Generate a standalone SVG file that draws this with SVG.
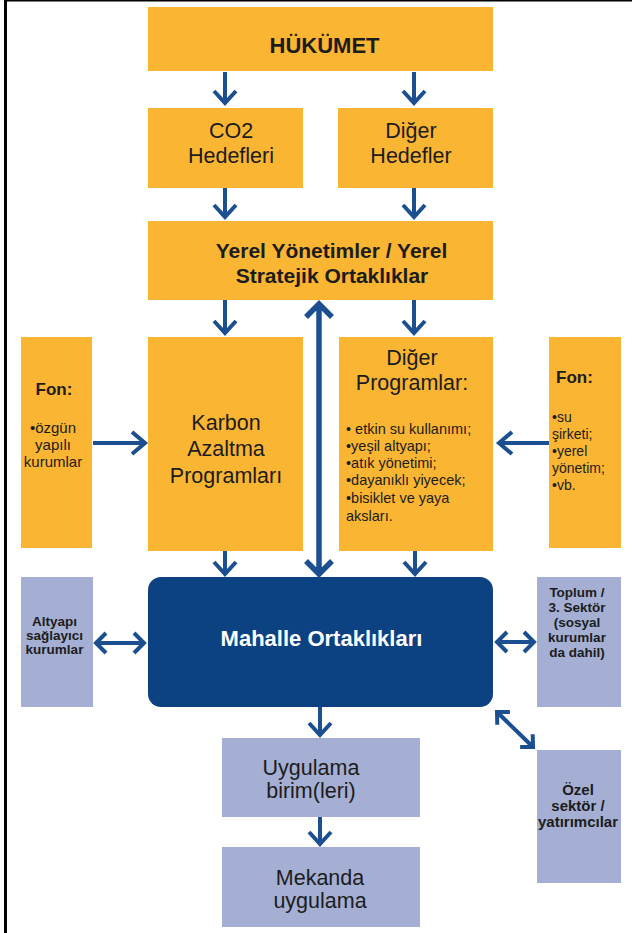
<svg xmlns="http://www.w3.org/2000/svg" width="632" height="933" viewBox="0 0 632 933">
<style>
.or{fill:#fab532}
.lv{fill:#a4afd3}
.dk{fill:#0c4281}
text{font-family:"Liberation Sans",Arial,sans-serif;fill:#1c1c1c}
.t{font-size:21.5px;text-anchor:middle}
.b{font-weight:bold;text-anchor:middle}
.s{font-size:14.5px}
.w{fill:#ffffff}
.ar{fill:none;stroke:#1b4f8f;stroke-width:4;stroke-linecap:butt;stroke-linejoin:miter}
.ar2{fill:none;stroke:#1b4f8f;stroke-width:5.5;stroke-linejoin:miter}
</style>
<rect x="0" y="0" width="632" height="933" fill="#ffffff"/>
<rect x="4" y="0" width="3" height="933" fill="#000"/>
<rect x="4" y="0" width="628" height="1.5" fill="#000"/>

<g id="hukumet">
<rect class="or" x="148" y="7" width="345" height="64"/>
<text class="b" x="324.5" y="53" font-size="22">HÜKÜMET</text>
</g>
<g id="co2">
<rect class="or" x="148" y="108" width="155" height="80"/>
<text class="t" x="231" y="138">CO2</text>
<text class="t" x="231" y="163">Hedefleri</text>
</g>
<g id="diger-hedefler">
<rect class="or" x="338" y="108" width="155" height="80"/>
<text class="t" x="411" y="138">Diğer</text>
<text class="t" x="411" y="163">Hedefler</text>
</g>
<g id="yerel">
<rect class="or" x="148" y="221" width="345" height="79"/>
<text class="b" x="331.5" y="258" font-size="21">Yerel Yönetimler / Yerel</text>
<text class="b" x="332" y="283" font-size="21">Stratejik Ortaklıklar</text>
</g>
<g id="fon-sol">
<rect class="or" x="21" y="337" width="71" height="211"/>
<text class="b" x="54" y="395" font-size="17">Fon:</text>
<text x="53" y="433" font-size="15" text-anchor="middle">•özgün</text>
<text x="53" y="450" font-size="15" text-anchor="middle">yapılı</text>
<text x="53" y="467" font-size="15" text-anchor="middle">kurumlar</text>
</g>
<g id="karbon">
<rect class="or" x="148" y="337" width="155" height="214"/>
<text class="t" x="226" y="430">Karbon</text>
<text class="t" x="226" y="456">Azaltma</text>
<text class="t" x="226" y="483">Programları</text>
</g>
<g id="diger-programlar">
<rect class="or" x="339" y="337" width="154" height="214"/>
<text class="t" x="412" y="365">Diğer</text>
<text class="t" x="412" y="390">Programlar:</text>
<text class="s" x="346" y="434">• etkin su kullanımı;</text>
<text class="s" x="346" y="451">•yeşil altyapı;</text>
<text class="s" x="346" y="468">•atık yönetimi;</text>
<text class="s" x="346" y="485">•dayanıklı yiyecek;</text>
<text class="s" x="346" y="503">•bisiklet ve yaya</text>
<text class="s" x="346" y="521">aksları.</text>
</g>
<g id="fon-sag">
<rect class="or" x="549" y="337" width="72" height="211"/>
<text x="556" y="383" font-size="17" font-weight="bold">Fon:</text>
<text x="552" y="422" font-size="14">•su</text>
<text x="552" y="439" font-size="14">şirketi;</text>
<text x="552" y="456" font-size="14">•yerel</text>
<text x="552" y="473" font-size="14">yönetim;</text>
<text x="552" y="490" font-size="14">•vb.</text>
</g>
<g id="altyapi">
<rect class="lv" x="21" y="577" width="72" height="130"/>
<text class="b" x="54.5" y="626" font-size="13.5">Altyapı</text>
<text class="b" x="54.5" y="640" font-size="13.5">sağlayıcı</text>
<text class="b" x="54.5" y="654" font-size="13.5">kurumlar</text>
</g>
<g id="mahalle">
<rect class="dk" x="148" y="577" width="345" height="130" rx="13" ry="13"/>
<text class="b w" x="321.5" y="646" font-size="22">Mahalle Ortaklıkları</text>
</g>
<g id="toplum">
<rect class="lv" x="537" y="577" width="84" height="130"/>
<text class="b" x="577" y="597" font-size="13.5">Toplum /</text>
<text class="b" x="577" y="612" font-size="13.5">3. Sektör</text>
<text class="b" x="577" y="627" font-size="13.5">(sosyal</text>
<text class="b" x="577" y="642" font-size="13.5">kurumlar</text>
<text class="b" x="577" y="657" font-size="13.5">da dahil)</text>
</g>
<g id="ozel">
<rect class="lv" x="537" y="750" width="84" height="133"/>
<text class="b" x="578" y="795" font-size="15">Özel</text>
<text class="b" x="578" y="811" font-size="15">sektör /</text>
<text class="b" x="578" y="827" font-size="15">yatırımcılar</text>
</g>
<g id="uygulama">
<rect class="lv" x="222" y="738" width="198" height="79"/>
<text class="t" x="311" y="775" font-size="21">Uygulama</text>
<text class="t" x="311" y="798" font-size="21">birim(leri)</text>
</g>
<g id="mekanda">
<rect class="lv" x="222" y="847" width="198" height="80"/>
<text class="t" x="320" y="885" font-size="21">Mekanda</text>
<text class="t" x="320" y="908" font-size="21">uygulama</text>
</g>

<g id="connectors">
<path class="ar" d="M225 72V103M214 91L225 103L236 91"/>
<path class="ar" d="M414 72V103M403 91L414 103L425 91"/>
<path class="ar" d="M225 188V217M214 205L225 217L236 205"/>
<path class="ar" d="M414 188V217M403 205L414 217L425 205"/>
<path class="ar" d="M225 300V333M214 321L225 333L236 321"/>
<path class="ar" d="M414 300V333M403 321L414 333L425 321"/>
<path class="ar" d="M225 551V574M214 562L225 574L236 562"/>
<path class="ar" d="M415 551V574M404 562L415 574L426 562"/>
<path class="ar2" d="M319 305V573M306 317L319 304L332 317M306 561L319 574L332 561"/>
<path class="ar" d="M93 443H145M132 432L145 443L132 454"/>
<path class="ar" d="M549 443H499M512 432L499 443L512 454"/>
<path class="ar" d="M95 643H145M106 633L96 643L106 653M134 633L144 643L134 653"/>
<path class="ar" d="M497 642H534M507 632L497 642L507 652M524 632L534 642L524 652"/>
<path class="ar" d="M497 712L533 747M497.3 724.8L497 712L509.9 711.9M520.1 747.1L533 747L532.7 734.2"/>
<path class="ar" d="M320 707V735M309 723L320 735L331 723"/>
<path class="ar" d="M320 817V844M309 832L320 844L331 832"/>
</g>
</svg>
